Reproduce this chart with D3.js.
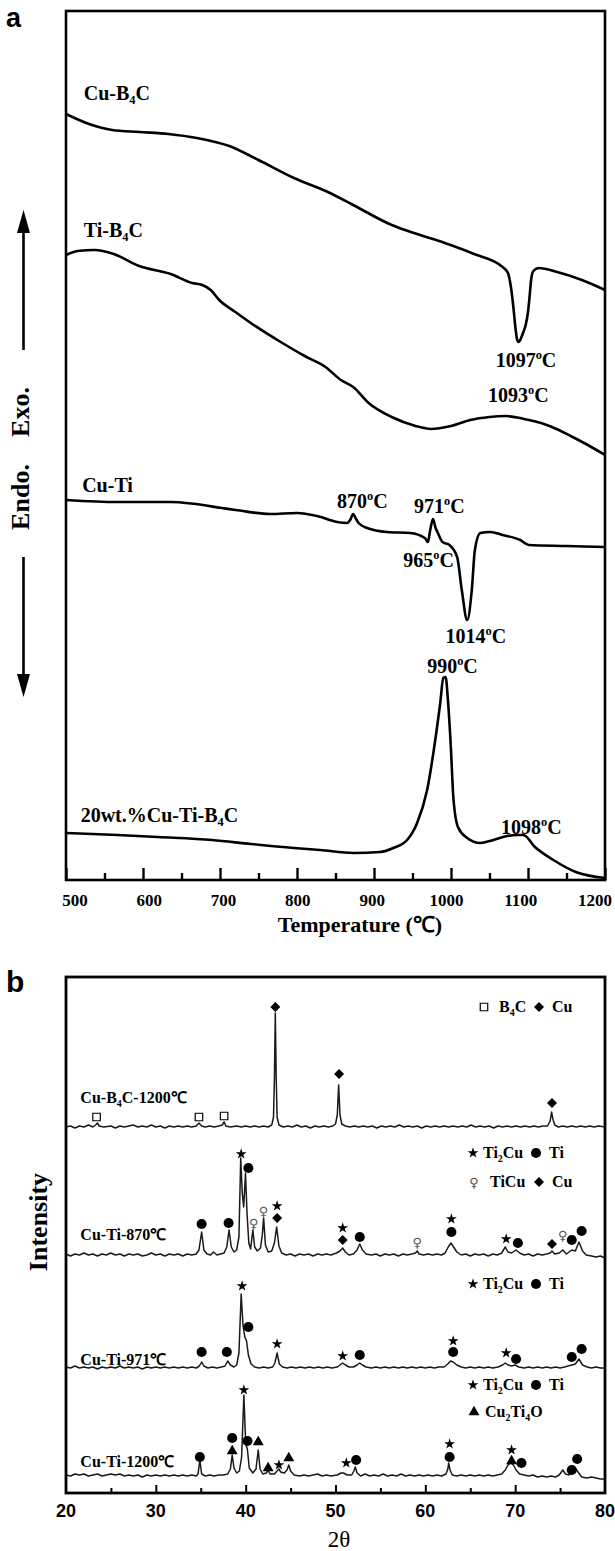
<!DOCTYPE html>
<html>
<head>
<meta charset="utf-8">
<script src="https://cdn.jsdelivr.net/npm/d3@7"></script>
<style>
body { margin: 0; background: #fff; }
text { font-family: "Liberation Serif", "Times New Roman", serif; font-weight: bold; fill: #000; }
</style>
</head>
<body>
<svg id="chart" width="615" height="1551"></svg>
<script>
// ---------- Data, panel a (DSC: temperature in C, heat flow in a.u.) ----------
var tempTicks   = [500, 600, 700, 800, 900, 1000, 1100, 1200];
var tempMinor   = [550, 650, 750, 850, 950, 1050, 1150];

var dscCuB4C    = [[500,76.6],[530,75.6],[560,75.0],[595,74.8],[633,74.6],[670,74.2],[712,73.4],[750,72.0],
                   [796,70.2],[840,68.8],[873,67.5],[923,65.5],[960,64.5],[992,63.7],[1030,62.6],[1067,61.3],
                   [1074,60.7],[1078,59.2],[1081,57.3],[1084,55.0],[1086,54.0],[1088,53.8],[1091,54.2],[1094,54.8],
                   [1097,55.5],[1100,56.8],[1102,58.3],[1104,60.0],[1107,60.9],[1114,61.2],[1138,60.8],[1170,60.0],[1200,59.0]];
var dscTiB4C    = [[500,62.5],[515,62.9],[537,63.0],[562,62.6],[595,61.4],[636,60.6],[664,59.7],[677,59.5],
                   [688,59.0],[699,58.0],[720,56.8],[740,55.7],[781,53.7],[810,52.4],[837,51.3],[857,50.0],
                   [873,49.3],[893,47.7],[923,46.3],[954,45.4],[974,45.1],[1000,45.4],[1025,46.0],[1050,46.3],
                   [1071,46.4],[1095,46.1],[1117,45.7],[1140,45.0],[1158,44.3],[1180,43.4],[1200,42.5]];
var dscCuTi     = [[500,38.0],[567,37.8],[636,37.8],[720,37.0],[765,36.6],[800,36.7],[826,36.4],[852,35.8],
                   [865,35.7],[869,36.0],[873,36.6],[876,36.2],[880,35.7],[891,35.2],[917,34.8],[947,34.7],
                   [966,34.2],[970,33.8],[973,35.0],[976.6,36.1],[980,35.2],[983,34.7],[989,33.8],[998,33.5],
                   [1008,32.3],[1014,29.0],[1021,26.0],[1027,29.0],[1031,33.0],[1038,34.7],[1051,34.8],[1067,34.5],
                   [1090,34.0],[1101,33.5],[1150,33.4],[1200,33.3]];
var dscCuTiB4C  = [[500,4.7],[567,4.5],[620,4.3],[690,4.0],[740,3.6],[796,3.2],[830,3.0],[873,2.7],
                   [908,2.8],[925,3.2],[943,4.0],[956,5.7],[969,9.0],[979,13.7],[986,17.7],[990,20.2],
                   [993,20.3],[996,18.0],[1000,13.0],[1003,8.3],[1009,5.3],[1021,4.2],[1038,3.7],[1055,4.0],
                   [1073,4.4],[1086,4.5],[1094,4.5],[1109,3.3],[1133,2.0],[1162,0.8],[1200,0.2]];

// label text, temperature, heat flow (_n = subscript, ^o = superscript o)
var dscLabels   = [
    ["Cu-B_4C", 523, 78.0], ["Ti-B_4C", 523, 64.3], ["1097^oC", 1058, 51.3], ["1093^oC", 1048, 47.8],
    ["Cu-Ti", 521, 38.8], ["870^oC", 852, 37.2], ["971^oC", 952, 36.7], ["965^oC", 938, 31.3],
    ["1014^oC", 993, 23.7], ["990^oC", 969, 20.7], ["20wt.%Cu-Ti-B_4C", 519, 5.8], ["1098^oC", 1065, 4.6]
];

// ---------- Data, panel b (XRD: 2theta in degrees, intensity in a.u.) ----------
var thetaTicks  = [20, 30, 40, 50, 60, 70, 80];
var thetaMajor  = [30, 40, 50, 60, 70];
var thetaMinor  = [25, 35, 45, 55, 65, 75];

var xrdCuB4C    = [[20,36.6],[20.5,36.7],[21,36.5],[21.5,36.7],[22,36.6],[22.5,36.8],[23,36.6],[23.3,36.8],[23.5,37.0],
                   [23.7,36.7],[24.2,36.6],[25,36.7],[25.5,36.5],[26,36.7],[26.5,36.6],[27,36.7],[27.5,36.8],[28,36.6],
                   [28.5,36.7],[29,36.6],[29.5,36.8],[30,36.6],[30.5,36.7],[31,36.5],[31.5,36.7],[32,36.6],[32.5,36.7],
                   [33,36.6],[33.5,36.7],[34,36.6],[34.5,36.7],[34.8,37.0],[35.1,36.7],[35.5,36.6],[36,36.7],[36.5,36.6],
                   [37,36.7],[37.4,36.8],[37.6,37.1],[37.8,36.7],[38.3,36.6],[39,36.7],[39.5,36.6],[40,36.7],[40.5,36.6],
                   [41,36.7],[41.5,36.6],[42,36.7],[42.5,36.6],[42.9,36.8],[43.1,37.6],[43.2,41.5],[43.3,48.0],[43.4,41.5],
                   [43.5,37.6],[43.7,36.8],[44.2,36.6],[44.7,36.7],[45.2,36.6],[45.7,36.8],[46.2,36.6],[46.7,36.7],[47.2,36.5],
                   [47.7,36.7],[48.2,36.6],[48.7,36.7],[49.2,36.6],[49.7,36.7],[50.0,36.9],[50.2,37.8],[50.35,40.8],[50.5,37.8],
                   [50.7,36.9],[51.1,36.7],[51.6,36.6],[52.1,36.7],[52.6,36.6],[53.1,36.7],[53.6,36.6],[54.1,36.7],[54.6,36.5],
                   [55.1,36.7],[55.6,36.6],[56.1,36.7],[56.6,36.6],[57.1,36.8],[57.6,36.6],[58.1,36.7],[58.6,36.6],[59.1,36.7],
                   [59.6,36.5],[60.1,36.7],[60.6,36.6],[61.1,36.7],[61.6,36.6],[62.1,36.7],[62.6,36.6],[63.1,36.7],[63.6,36.6],
                   [64.1,36.7],[64.6,36.6],[65.1,36.8],[65.6,36.6],[66.1,36.7],[66.6,36.6],[67.1,36.7],[67.6,36.5],[68.1,36.7],
                   [68.6,36.6],[69.1,36.7],[69.6,36.6],[70.1,36.7],[70.6,36.6],[71.1,36.7],[71.6,36.6],[72.1,36.7],[72.6,36.6],
                   [73.1,36.7],[73.6,36.7],[73.9,37.2],[74.05,38.1],[74.2,37.4],[74.4,36.8],[74.8,36.6],[75.3,36.7],[75.8,36.6],
                   [76.3,36.7],[76.8,36.6],[77.3,36.7],[77.8,36.6],[78.3,36.7],[78.8,36.6],[79.3,36.7],[80,36.6]];
var xrd870      = [[20,23.9],[20.5,23.7],[21,23.9],[21.5,23.8],[22,24.0],[22.5,23.8],[23,23.9],[23.5,23.7],[24,23.9],
                   [24.5,23.8],[25,24.0],[25.5,23.8],[26,23.9],[26.5,23.7],[27,23.9],[27.5,23.8],[28,23.9],[28.5,23.7],
                   [29,23.8],[29.5,24.0],[30,23.8],[30.5,23.9],[31,23.7],[31.5,23.9],[32,23.8],[32.5,23.9],[33,23.7],
                   [33.5,23.9],[34,23.8],[34.5,23.9],[34.8,24.3],[35.1,26.1],[35.35,24.3],[35.7,23.9],[36.1,23.8],[36.4,24.1],
                   [36.8,23.8],[37.2,23.9],[37.6,24.0],[37.9,24.6],[38.15,26.3],[38.4,24.6],[38.7,24.1],[39.0,24.3],[39.25,25.6],
                   [39.45,33.5],[39.62,30.0],[39.78,28.6],[39.98,32.0],[40.15,28.0],[40.35,25.0],[40.55,24.4],[40.8,26.3],[41.0,24.6],
                   [41.3,24.2],[41.65,24.5],[41.85,25.8],[42.0,27.5],[42.2,24.8],[42.5,24.1],[42.9,24.2],[43.2,25.0],[43.45,26.6],
                   [43.7,24.7],[44.0,24.0],[44.5,23.8],[45,23.9],[45.5,23.7],[46,23.9],[46.5,23.8],[47,23.9],[47.5,23.7],
                   [48,23.9],[48.5,23.8],[49,23.9],[49.5,23.8],[50.1,24.0],[50.5,24.2],[50.8,24.5],[51.1,24.1],[51.5,23.8],
                   [52.0,23.9],[52.4,24.3],[52.7,24.9],[53.0,24.3],[53.4,23.9],[54,23.8],[54.5,23.9],[55,23.7],[55.5,23.9],
                   [56,23.8],[56.5,23.9],[57,23.7],[57.5,23.9],[58,23.8],[58.5,23.9],[58.9,24.0],[59.1,24.2],[59.3,23.9],
                   [59.8,23.8],[60.3,23.9],[60.8,23.8],[61.3,23.9],[61.8,23.8],[62.2,24.0],[62.55,24.6],[62.85,25.0],[63.15,24.6],
                   [63.5,24.1],[64,23.8],[64.5,23.9],[65,23.7],[65.5,23.9],[66,23.8],[66.5,23.9],[67,23.7],[67.5,23.9],
                   [68,23.8],[68.5,24.0],[68.9,24.6],[69.2,24.1],[69.6,24.0],[70.1,24.3],[70.5,24.0],[71,23.8],[71.5,23.9],
                   [72,23.7],[72.5,23.9],[73,23.8],[73.5,23.9],[73.9,24.0],[74.1,24.2],[74.4,23.9],[74.9,24.0],[75.3,24.3],
                   [75.7,23.9],[76.3,24.3],[76.7,24.2],[77.1,25.1],[77.5,24.2],[77.9,23.8],[78.5,23.7],[79,23.6],[79.5,23.7],[80,23.5]];
var xrd971      = [[20,12.6],[20.5,12.5],[21,12.7],[21.5,12.5],[22,12.6],[22.5,12.5],[23,12.6],[23.5,12.4],[24,12.6],
                   [24.5,12.5],[25,12.6],[25.5,12.5],[26,12.7],[26.5,12.5],[27,12.6],[27.5,12.5],[28,12.6],[28.5,12.4],
                   [29,12.6],[29.5,12.5],[30,12.6],[30.5,12.5],[31,12.6],[31.5,12.5],[32,12.6],[32.5,12.5],[33,12.6],
                   [33.5,12.5],[34,12.6],[34.5,12.5],[34.85,12.7],[35.1,13.1],[35.35,12.7],[35.8,12.5],[36.3,12.6],[36.8,12.5],
                   [37.3,12.6],[37.7,12.7],[38.0,13.2],[38.3,12.8],[38.7,12.6],[39.0,12.8],[39.25,14.0],[39.5,19.9],[39.7,16.8],
                   [39.9,15.6],[40.1,15.2],[40.3,13.8],[40.6,12.9],[41.0,12.6],[41.5,12.5],[42,12.6],[42.5,12.5],[43.0,12.6],
                   [43.25,13.0],[43.5,14.0],[43.75,12.9],[44.1,12.6],[44.6,12.5],[45.1,12.6],[45.6,12.5],[46.1,12.6],[46.6,12.5],
                   [47.1,12.6],[47.6,12.5],[48.1,12.6],[48.6,12.5],[49.1,12.6],[49.6,12.5],[50.2,12.6],[50.5,12.8],[50.8,13.0],
                   [51.1,12.8],[51.5,12.6],[52.0,12.6],[52.4,12.8],[52.7,13.0],[53.0,12.8],[53.4,12.6],[54,12.5],[54.5,12.6],
                   [55,12.5],[55.5,12.6],[56,12.5],[56.5,12.6],[57,12.5],[57.5,12.6],[58,12.5],[58.5,12.6],[59,12.5],
                   [59.5,12.6],[60,12.5],[60.5,12.6],[61,12.5],[61.5,12.6],[62.1,12.6],[62.5,12.9],[62.8,13.2],[63.1,13.1],
                   [63.5,12.8],[64.0,12.6],[64.5,12.5],[65,12.6],[65.5,12.5],[66,12.6],[66.5,12.5],[67,12.6],[67.5,12.5],
                   [68.1,12.6],[68.6,12.8],[68.9,13.0],[69.2,12.8],[69.6,12.7],[70.0,12.8],[70.4,12.6],[71,12.5],[71.5,12.6],
                   [72,12.5],[72.5,12.6],[73,12.5],[73.5,12.6],[74,12.5],[74.5,12.6],[75,12.5],[75.5,12.6],[75.9,12.7],
                   [76.3,12.8],[76.7,12.9],[77.1,13.4],[77.5,12.8],[78,12.6],[78.5,12.5],[79,12.6],[79.5,12.5],[80,12.5]];
var xrd1200     = [[20,1.8],[20.5,1.7],[21,1.9],[21.5,1.8],[22,1.9],[22.5,1.7],[23,1.8],[23.5,1.9],[24,1.7],
                   [24.5,1.8],[25,1.9],[25.5,1.8],[26,1.9],[26.5,1.7],[27,1.8],[27.5,1.7],[28,1.8],[28.5,1.6],
                   [29,1.8],[29.5,1.7],[30,1.8],[30.5,1.7],[31,1.8],[31.5,1.7],[32,1.8],[32.5,1.7],[33,1.8],
                   [33.5,1.7],[34,1.8],[34.5,1.7],[34.7,1.9],[34.9,3.3],[35.1,1.9],[35.5,1.7],[36,1.8],[36.5,1.7],
                   [37,1.8],[37.5,1.8],[38.0,1.9],[38.3,2.4],[38.5,3.8],[38.7,2.5],[39.0,2.0],[39.3,2.2],[39.55,3.6],
                   [39.8,9.8],[40.0,5.0],[40.2,4.3],[40.4,2.5],[40.8,2.0],[41.15,2.4],[41.4,4.3],[41.6,2.4],[41.9,1.9],
                   [42.3,2.0],[42.5,2.3],[42.7,1.9],[43.2,1.9],[43.5,2.2],[43.7,2.4],[43.9,2.1],[44.3,2.0],[44.6,2.3],
                   [44.8,2.8],[45.0,2.2],[45.4,1.8],[46,1.7],[46.5,1.8],[47,1.7],[47.5,1.8],[48,1.9],[48.5,1.7],
                   [49,1.8],[49.5,1.7],[50.2,1.8],[50.6,2.0],[50.9,2.0],[51.3,1.8],[51.8,1.8],[52.05,2.2],[52.2,2.6],
                   [52.4,2.0],[52.8,1.7],[53.3,1.9],[53.8,1.7],[54.3,1.8],[54.8,1.7],[55.3,1.9],[55.8,1.7],[56.3,1.8],
                   [56.8,1.7],[57.3,1.9],[57.8,1.7],[58.3,1.8],[58.8,1.7],[59.3,1.8],[59.8,1.7],[60.3,1.8],[60.8,1.7],
                   [61.3,1.8],[61.8,1.7],[62.3,1.9],[62.5,2.4],[62.6,3.0],[62.75,2.3],[63.0,1.8],[63.5,1.7],[64,1.8],
                   [64.5,1.7],[65,1.8],[65.5,1.7],[66,1.8],[66.5,1.7],[67,1.8],[67.5,1.7],[68,1.8],[68.5,1.9],
                   [68.9,2.3],[69.2,2.8],[69.5,3.0],[69.8,2.8],[70.1,2.3],[70.5,1.9],[71,1.8],[71.5,1.7],[72,1.8],
                   [72.5,1.6],[73,1.7],[73.5,1.6],[74,1.7],[74.5,1.6],[74.9,1.8],[75.3,2.3],[75.6,1.9],[76.0,1.8],
                   [76.4,2.1],[76.7,2.5],[77.0,2.1],[77.4,1.6],[78,1.5],[78.5,1.6],[79,1.5],[79.5,1.4],[80,1.4]];

// phase markers: 2theta, intensity, phase
var markCuB4C   = [[23.4,37.6,"B4C"],[34.8,37.6,"B4C"],[37.6,37.7,"B4C"],[43.3,48.6,"Cu"],[50.4,41.9,"Cu"],[74.1,39.0,"Cu"]];
var mark870     = [[35.1,26.9,"Ti"],[38.1,27.0,"Ti"],[39.5,33.9,"Ti2Cu"],[40.3,32.5,"Ti"],[40.9,27.0,"TiCu"],
                   [42.0,28.2,"TiCu"],[43.5,28.7,"Ti2Cu"],[43.5,27.5,"Cu"],[50.8,26.5,"Ti2Cu"],[50.8,25.3,"Cu"],
                   [52.7,25.6,"Ti"],[59.1,25.1,"TiCu"],[62.9,27.4,"Ti2Cu"],[62.9,26.1,"Ti"],[69.0,25.4,"Ti2Cu"],
                   [70.3,25.0,"Ti"],[74.1,24.9,"Cu"],[75.3,25.8,"TiCu"],[76.3,25.3,"Ti"],[77.4,26.2,"Ti"]];
var mark971     = [[35.1,14.1,"Ti"],[37.9,14.1,"Ti"],[39.6,20.7,"Ti2Cu"],[40.3,16.6,"Ti"],[43.5,14.9,"Ti2Cu"],
                   [50.8,13.7,"Ti2Cu"],[52.7,13.8,"Ti"],[63.1,15.2,"Ti2Cu"],[63.1,14.1,"Ti"],[69.0,14.0,"Ti2Cu"],
                   [70.1,13.4,"Ti"],[76.3,13.6,"Ti"],[77.4,14.4,"Ti"]];
var mark1200    = [[34.9,3.6,"Ti"],[38.5,5.5,"Ti"],[38.5,4.2,"Cu2Ti4O"],[39.8,10.3,"Ti2Cu"],[40.2,5.2,"Ti"],
                   [41.4,5.1,"Cu2Ti4O"],[42.5,2.5,"Cu2Ti4O"],[43.7,2.8,"Ti2Cu"],[44.8,3.5,"Cu2Ti4O"],[51.2,3.0,"Ti2Cu"],
                   [52.3,3.3,"Ti"],[62.7,4.9,"Ti2Cu"],[62.7,3.6,"Ti"],[69.6,4.3,"Ti2Cu"],[69.6,3.2,"Cu2Ti4O"],
                   [70.7,3.0,"Ti"],[76.3,2.3,"Ti"],[76.9,3.4,"Ti"]];

var xrdLabels   = [["Cu-B_4C-1200℃", 21.6, 39.0], ["Cu-Ti-870℃", 21.6, 25.3], ["Cu-Ti-971℃", 21.6, 12.8], ["Cu-Ti-1200℃", 21.6, 2.6]];

// legend rows: intensity level, then [phase, label] pairs
var xrdLegends  = [
    [48.6, [["B4C", "B_4C"], ["Cu", "Cu"]]],
    [34.0, [["Ti2Cu", "Ti_2Cu"], ["Ti", "Ti"]]],
    [31.1, [["TiCu", "TiCu"], ["Cu", "Cu"]]],
    [20.9, [["Ti2Cu", "Ti_2Cu"], ["Ti", "Ti"]]],
    [10.8, [["Ti2Cu", "Ti_2Cu"], ["Ti", "Ti"]]],
    [8.1,  [["Cu2Ti4O", "Cu_2Ti_4O"]]]
];

// ---------- Drawing ----------
var svg = d3.select("#chart");

// text with _n subscripts and ^o superscript
function richText(g, x, y, str, size) {
    var t = g.append("text").attr("x", x).attr("y", y).style("font-size", size + "px");
    var shift = 0;
    str.split(/(_[0-9]+|\^o)/).forEach(function(p) {
        if (!p) return;
        if (p[0] === "_") {
            t.append("tspan").attr("dy", size * 0.22 - shift).style("font-size", (size * 0.62) + "px").text(p.slice(1));
            shift = size * 0.22;
        } else if (p[0] === "^") {
            t.append("tspan").attr("dy", -size * 0.4 - shift).style("font-size", (size * 0.62) + "px").text("o");
            shift = -size * 0.4;
        } else {
            t.append("tspan").attr("dy", -shift).text(p);
            shift = 0;
        }
    });
    return t;
}

// ----- panel a -----
var xA = d3.scaleLinear().domain([500, 1200]).range([66, 605]);
var yA = d3.scaleLinear().domain([0, 86.9]).range([880, 11]);
var labelXA = d3.scaleLinear().domain([500, 1200]).range([75, 595]);

var lineA = d3.line()
    .x(function(d) { return xA(d[0]); })
    .y(function(d) { return yA(d[1]); })
    .curve(d3.curveMonotoneX);

var gA = svg.append("g");
[dscCuB4C, dscTiB4C, dscCuTi, dscCuTiB4C].forEach(function(s) {
    gA.append("path").datum(s).attr("d", lineA)
        .attr("fill", "none").attr("stroke", "#000").attr("stroke-width", 2.6).attr("stroke-linejoin", "round");
});

gA.append("g").attr("transform", "translate(0,880)")
    .call(d3.axisBottom(xA).tickValues(tempTicks).tickSize(-12).tickFormat(""))
    .call(function(g) { g.select(".domain").remove(); g.selectAll("line").attr("stroke-width", 2.4); });
gA.append("g").attr("transform", "translate(0,880)")
    .call(d3.axisBottom(xA).tickValues(tempMinor).tickSize(-7).tickFormat(""))
    .call(function(g) { g.select(".domain").remove(); g.selectAll("line").attr("stroke-width", 2.4); });

gA.append("rect").attr("x", 66).attr("y", 11).attr("width", 539).attr("height", 869)
    .attr("fill", "none").attr("stroke", "#000").attr("stroke-width", 2.6);

gA.selectAll("text.tick-a").data(tempTicks).enter().append("text")
    .attr("class", "tick-a")
    .attr("x", function(d) { return labelXA(d); })
    .attr("y", 906)
    .attr("text-anchor", "middle")
    .style("font-size", "17px")
    .text(function(d) { return d; });

gA.append("text").attr("x", 360).attr("y", 932).attr("text-anchor", "middle")
    .style("font-size", "22px").text("Temperature (℃)");

dscLabels.forEach(function(l) { richText(gA, xA(l[1]), yA(l[2]), l[0], 20); });

// Endo / Exo arrows
gA.append("line").attr("x1", 23.5).attr("x2", 23.5).attr("y1", 228).attr("y2", 350).attr("stroke", "#000").attr("stroke-width", 2.6);
gA.append("path").attr("d", "M23.5,210 L17,233 L30,233 Z").attr("fill", "#000");
gA.append("line").attr("x1", 23.5).attr("x2", 23.5).attr("y1", 557).attr("y2", 679).attr("stroke", "#000").attr("stroke-width", 2.6);
gA.append("path").attr("d", "M23.5,697 L17,674 L30,674 Z").attr("fill", "#000");
gA.append("text").attr("transform", "translate(29,412) rotate(-90)").attr("text-anchor", "middle")
    .style("font-size", "26px").text("Exo.");
gA.append("text").attr("transform", "translate(29,497) rotate(-90)").attr("text-anchor", "middle")
    .style("font-size", "26px").text("Endo.");

svg.append("text").attr("x", 6).attr("y", 27)
    .style("font-family", "Liberation Sans, Arial, sans-serif").style("font-size", "27px").text("a");

// ----- panel b -----
var xB = d3.scaleLinear().domain([20, 80]).range([66, 605]);
var yB = d3.scaleLinear().domain([0, 51.6]).range([1493, 977]);

var lineB = d3.line()
    .x(function(d) { return xB(d[0]); })
    .y(function(d) { return yB(d[1]); });

var gB = svg.append("g");
[xrdCuB4C, xrd870, xrd971, xrd1200].forEach(function(s) {
    gB.append("path").datum(s).attr("d", lineB)
        .attr("fill", "none").attr("stroke", "#1a1a1a").attr("stroke-width", 1.5).attr("stroke-linejoin", "round");
});

var symbolType = { Ti: d3.symbolCircle, Ti2Cu: d3.symbolStar, Cu: d3.symbolSquare, B4C: d3.symbolSquare, Cu2Ti4O: d3.symbolTriangle };
var symbolSize = { Ti: 80, Ti2Cu: 36, Cu: 50, B4C: 56, Cu2Ti4O: 52 };

function drawPhase(g, phase, px, py) {
    if (phase === "TiCu") {
        g.append("text").attr("x", px).attr("y", py + 4.5).attr("text-anchor", "middle")
            .style("font-family", "DejaVu Sans, sans-serif").style("font-weight", "normal")
            .style("font-size", "13px").style("fill", "#555").text("♀");
        return;
    }
    var p = g.append("path")
        .attr("d", d3.symbol().type(symbolType[phase]).size(symbolSize[phase])())
        .attr("transform", "translate(" + px + "," + py + ")" + (phase === "Cu" ? " rotate(45)" : ""));
    if (phase === "B4C") p.attr("fill", "#fff").attr("stroke", "#000").attr("stroke-width", 1.2);
    else p.attr("fill", "#000");
}

[markCuB4C, mark870, mark971, mark1200].forEach(function(set) {
    set.forEach(function(m) { drawPhase(gB, m[2], xB(m[0]), yB(m[1])); });
});

xrdLabels.forEach(function(l) { richText(gB, xB(l[1]), yB(l[2]), l[0], 16); });

// legend columns: symbol x and text x, per phase
var legendSymX  = { B4C: 484, Ti2Cu: 473, TiCu: 474, Cu2Ti4O: 474 };
var legendTxtX  = { B4C: 499, Ti2Cu: 483, TiCu: 490, Cu2Ti4O: 485 };
xrdLegends.forEach(function(row) {
    var y = yB(row[0]);
    row[1].forEach(function(item, i) {
        var sx = i === 0 ? legendSymX[item[0]] : (item[0] === "Cu" ? 539 : 536);
        var tx = i === 0 ? legendTxtX[item[0]] : sx + 13;
        drawPhase(gB, item[0], sx, y);
        richText(gB, tx, y + 5, item[1], 16);
    });
});

gB.append("g").attr("transform", "translate(0,1493)")
    .call(d3.axisBottom(xB).tickValues(thetaMajor).tickSize(-8).tickFormat(""))
    .call(function(g) { g.select(".domain").remove(); g.selectAll("line").attr("stroke-width", 2); });
gB.append("g").attr("transform", "translate(0,1493)")
    .call(d3.axisBottom(xB).tickValues(thetaMinor).tickSize(-5).tickFormat(""))
    .call(function(g) { g.select(".domain").remove(); g.selectAll("line").attr("stroke-width", 2); });

gB.append("rect").attr("x", 66).attr("y", 977).attr("width", 539).attr("height", 516)
    .attr("fill", "none").attr("stroke", "#000").attr("stroke-width", 2.8);

gB.selectAll("text.tick-b").data(thetaTicks).enter().append("text")
    .attr("class", "tick-b")
    .attr("x", function(d) { return xB(d); })
    .attr("y", 1517)
    .attr("text-anchor", "middle")
    .style("font-family", "Liberation Sans, Arial, sans-serif")
    .style("font-size", "18px")
    .text(function(d) { return d; });

gB.append("text").attr("x", 339).attr("y", 1547).attr("text-anchor", "middle")
    .style("font-weight", "normal").style("font-size", "23px").text("2θ");

gB.append("text").attr("transform", "translate(47,1222) rotate(-90)").attr("text-anchor", "middle")
    .style("font-size", "26px").text("Intensity");

svg.append("text").attr("x", 6).attr("y", 992)
    .style("font-family", "Liberation Sans, Arial, sans-serif").style("font-size", "30px").text("b");
</script>
</body>
</html>
